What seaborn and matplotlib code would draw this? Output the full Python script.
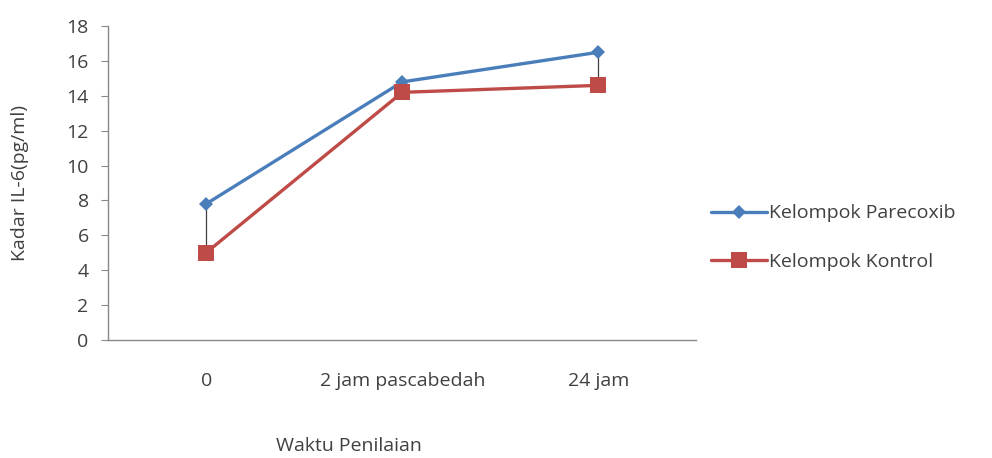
import pandas as pd
import numpy as np
import matplotlib.pyplot as plt
import seaborn as sns

# data
waktu = ["0", "2 jam pascabedah", "24 jam"]
parecoxib = [7.8, 14.8, 16.5]
kontrol = [5.0, 14.2, 14.6]
groups = ["Kelompok Parecoxib", "Kelompok Kontrol"]

df = pd.DataFrame({
    "Waktu": waktu * 2,
    "Kadar": parecoxib + kontrol,
    "Kelompok": [groups[0]] * 3 + [groups[1]] * 3,
})

sns.set_style("white")
plt.rcParams['font.family'] = ['Open Sans', 'DejaVu Sans']

fig = plt.figure(figsize=(9.92, 4.58), dpi=100)
ax = fig.add_axes([0.109, 0.258, 0.593, 0.685])

# high-low lines between the two groups
x = np.arange(len(waktu))
ax.vlines(x, kontrol, parecoxib, color="#404040", lw=0.9, zorder=1)

sns.lineplot(data=df, x="Waktu", y="Kadar", hue="Kelompok", style="Kelompok",
             markers={groups[0]: "D", groups[1]: "s"}, dashes=False, sort=False,
             palette={groups[0]: "#4a7ebb", groups[1]: "#be4b48"},
             lw=2.4, markersize=9, markeredgewidth=0, ax=ax, zorder=2)
for ln in ax.lines:
    if ln.get_marker() == "D":
        ln.set_markersize(7.5)
    elif ln.get_marker() == "s":
        ln.set_markersize(12)

ax.set_xlim(-0.5, 2.5)
ax.set_ylim(0, 18)
ax.set_yticks(range(0, 19, 2))
ax.set_xticks(x)
ax.set_xticklabels(waktu)
ax.tick_params(axis="y", left=True, length=5, color="#888888", labelsize=14, labelcolor="#404040", pad=9)
ax.tick_params(axis="x", bottom=False, labelsize=14, labelcolor="#404040", pad=20)

for s in ["top", "right"]:
    ax.spines[s].set_visible(False)
for s in ["left", "bottom"]:
    ax.spines[s].set_color("#888888")
    ax.spines[s].set_linewidth(1)

ax.set_xlabel("Waktu Penilaian", fontsize=14, color="#404040")
ax.set_ylabel("Kadar IL-6(pg/ml)", fontsize=14, color="#404040")
ax.xaxis.set_label_coords(0.41, -0.31)
ax.yaxis.set_label_coords(-0.135, 0.5)

leg = ax.legend(loc="center left", bbox_to_anchor=(0.995, 0.326), frameon=False,
                fontsize=14, labelspacing=1.55, handlelength=2.9, handletextpad=0.1,
                labelcolor="#404040")

fig.savefig("out.png", dpi=100)
